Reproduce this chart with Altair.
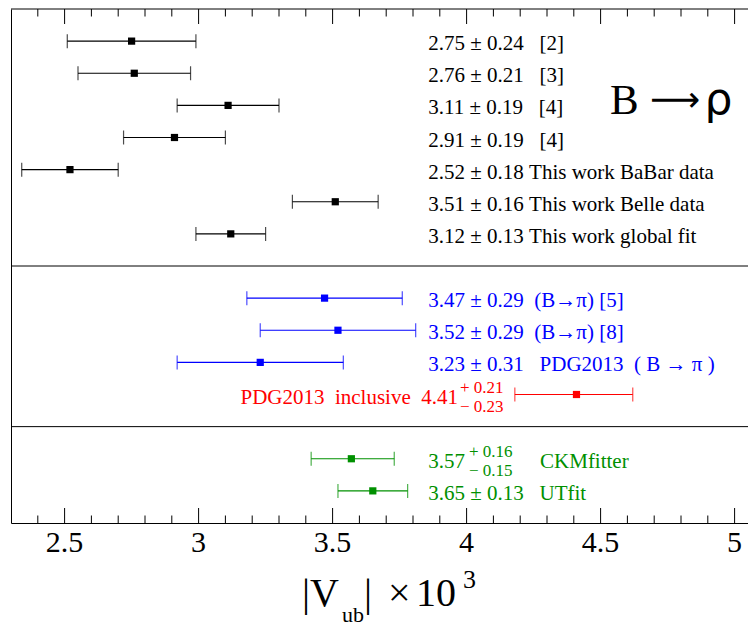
import altair as alt
import pandas as pd

# ---------------- data ----------------
rows = [1, 2, 3, 4, 5, 6, 7, 9, 10, 11, 12, 14, 15]
centers = [2.75, 2.76, 3.11, 2.91, 2.52, 3.51, 3.12, 3.47, 3.52, 3.23, 4.41, 3.57, 3.65]
err_plus = [0.24, 0.21, 0.19, 0.19, 0.18, 0.16, 0.13, 0.29, 0.29, 0.31, 0.21, 0.16, 0.13]
err_minus = [0.24, 0.21, 0.19, 0.19, 0.18, 0.16, 0.13, 0.29, 0.29, 0.31, 0.23, 0.15, 0.13]
groups = ["rho"] * 7 + ["pi"] * 3 + ["incl"] + ["fit"] * 2

NB = "\u00a0"
main_texts = [
    "2.75 ± 0.24" + NB * 3 + "[2]",
    "2.76 ± 0.21" + NB * 3 + "[3]",
    "3.11 ± 0.19" + NB * 3 + "[4]",
    "2.91 ± 0.19" + NB * 3 + "[4]",
    "2.52 ± 0.18" + NB + "This work BaBar data",
    "3.51 ± 0.16" + NB + "This work Belle data",
    "3.12 ± 0.13" + NB + "This work global fit",
    "3.47 ± 0.29" + NB * 2 + "(B→π) [5]",
    "3.52 ± 0.29" + NB * 2 + "(B→π) [8]",
    "3.23 ± 0.31" + NB * 3 + "PDG2013" + NB * 2 + "( B → π )",
    "PDG2013" + NB * 2 + "inclusive" + NB * 2 + "4.41",
    "3.57",
    "3.65 ± 0.13" + NB * 3 + "UTfit",
]
sup_texts = ["+ 0.21", "+ 0.16"]
sub_texts = ["− 0.23", "− 0.15"]
sup_rows = [12, 14]
sup_groups = ["incl", "fit"]
extra_texts = ["CKMfitter"]
extra_rows = [14]
extra_groups = ["fit"]

separators = [0, 8, 13]
major_ticks = [2.5, 3.0, 3.5, 4.0, 4.5, 5.0]
tick_labels = ["2.5", "3", "3.5", "4", "4.5", "5"]
minor_ticks = [2.4, 2.6, 2.7, 2.8, 2.9, 3.1, 3.2, 3.3, 3.4, 3.6, 3.7, 3.8, 3.9,
               4.1, 4.2, 4.3, 4.4, 4.6, 4.7, 4.8, 4.9]

# label anchor positions (x in data units)
main_x = [3.857] * 10 + [3.968] + [3.857] * 2
main_align = ["left"] * 10 + ["right"] + ["left"] * 2
sup_x = [3.975, 4.009]
extra_x = [4.274]

group_domain = ["rho", "pi", "incl", "fit"]
group_colors = ["#000000", "#0000ff", "#ff0000", "#009000"]

# ---------------- tables ----------------
pts = pd.DataFrame({
    "row": rows, "c": centers,
    "lo": [c - m for c, m in zip(centers, err_minus)],
    "hi": [c + p for c, p in zip(centers, err_plus)],
    "group": groups,
})
labels = pd.DataFrame({"row": rows, "x": main_x, "text": main_texts,
                       "group": groups, "align": main_align})
sups = pd.DataFrame({"row": sup_rows, "x": sup_x, "sup": sup_texts,
                     "sub": sub_texts, "group": sup_groups})
extras = pd.DataFrame({"row": extra_rows, "x": extra_x, "text": extra_texts,
                       "group": extra_groups})
seps = pd.DataFrame({"row": separators})
majors = pd.DataFrame({"t": major_ticks, "lab": tick_labels})
minors = pd.DataFrame({"t": minor_ticks})

SERIF = "Liberation Serif"
SANS = "DejaVu Sans"
H = 514
xscale = alt.Scale(domain=[2.3, 5.05], nice=False, zero=False)
yscale = alt.Scale(domain=[0, 16], reverse=True, nice=False, zero=False)
xaxis = alt.Axis(values=major_ticks, ticks=False, tickSize=0, labels=False,
                 domain=True, domainColor="black", domainWidth=1, grid=False,
                 title=None)
yaxis = alt.Axis(ticks=False, labels=False, domain=True, domainColor="black",
                 domainWidth=1, grid=False, title=None)
color = alt.Color("group:N", scale=alt.Scale(domain=group_domain, range=group_colors),
                  legend=None)


def X(f):
    return alt.X(f, type="quantitative", scale=xscale, axis=xaxis)


def Y(f):
    return alt.Y(f, type="quantitative", scale=yscale, axis=yaxis)


bars = alt.Chart(pts).mark_rule(strokeWidth=1.2).encode(
    x=X("lo"), x2="hi", y=Y("row"), color=color)
cap_lo = alt.Chart(pts).mark_tick(orient="vertical", size=14, thickness=1.2).encode(
    x=X("lo"), y=Y("row"), color=color)
cap_hi = alt.Chart(pts).mark_tick(orient="vertical", size=14, thickness=1.2).encode(
    x=X("hi"), y=Y("row"), color=color)
squares = alt.Chart(pts).mark_square(size=52, opacity=1, filled=True).encode(
    x=X("c"), y=Y("row"), color=color)

sep_rules = alt.Chart(seps).mark_rule(color="black", strokeWidth=1).encode(y=Y("row"))

tick_layers = []
for df, ln in [(majors, 15), (minors, 7.5)]:
    tick_layers.append(alt.Chart(df).mark_rule(color="black", strokeWidth=1).encode(
        x=X("t"), y=alt.value(0), y2=alt.value(ln)))
    tick_layers.append(alt.Chart(df).mark_rule(color="black", strokeWidth=1).encode(
        x=X("t"), y=alt.value(H), y2=alt.value(H - ln)))

tick_text = alt.Chart(majors).mark_text(
    align="center", baseline="alphabetic", font=SERIF, fontSize=30,
    color="black").encode(x=X("t"), y=alt.value(H + 29), text="lab:N")

txt_left = alt.Chart(labels).transform_filter("datum.align == 'left'").mark_text(
    align="left", baseline="alphabetic", dy=9, font=SERIF, fontSize=21).encode(
    x=X("x"), y=Y("row"), text="text:N", color=color)
txt_right = alt.Chart(labels).transform_filter("datum.align == 'right'").mark_text(
    align="right", baseline="alphabetic", dy=9, font=SERIF, fontSize=21).encode(
    x=X("x"), y=Y("row"), text="text:N", color=color)
txt_extra = alt.Chart(extras).mark_text(
    align="left", baseline="alphabetic", dy=9, font=SERIF, fontSize=21).encode(
    x=X("x"), y=Y("row"), text="text:N", color=color)
txt_sup = alt.Chart(sups).mark_text(
    align="left", baseline="alphabetic", dy=-2, font=SERIF, fontSize=17).encode(
    x=X("x"), y=Y("row"), text="sup:N", color=color)
txt_sub = alt.Chart(sups).mark_text(
    align="left", baseline="alphabetic", dy=17, font=SERIF, fontSize=17).encode(
    x=X("x"), y=Y("row"), text="sub:N", color=color)

# "B -> rho" label, three pieces
big_parts = [("B", 4.535, SERIF, 43, 9), ("⟶", 4.684, SANS, 35, 6),
             ("ρ", 4.888, SANS, 44, 9)]
big = pd.DataFrame({"row": [3] * 3, "x": [p[1] for p in big_parts],
                    "text": [p[0] for p in big_parts]})
big_layers = [
    alt.Chart(big.iloc[[i]]).mark_text(
        align="left", baseline="alphabetic", dy=d, font=f, fontSize=fs,
        color="black").encode(x=X("x"), y=Y("row"), text="text:N")
    for i, (_, _, f, fs, d) in enumerate(big_parts)
]

# axis title |V_ub| x 10^3 composed of pieces
title_parts = [
    ("|V", 291, 597, 40), ("ub", 331, 613, 22), ("|", 353, 597, 40),
    ("×", 377, 597, 40), ("10", 405, 597, 40), ("3", 452, 579, 26),
]
title_layers = [
    alt.Chart(pd.DataFrame({"a": [0]})).mark_text(
        align="left", baseline="alphabetic", font=SERIF, fontSize=fs,
        color="black", text=t).encode(x=alt.value(px), y=alt.value(py))
    for t, px, py, fs in title_parts
]

chart = alt.layer(
    sep_rules, *tick_layers, tick_text, bars, cap_lo, cap_hi, squares,
    txt_left, txt_right, txt_extra, txt_sup, txt_sub, *big_layers, *title_layers,
).properties(
    width=737, height=H,
    padding={"left": 3, "top": 1, "right": 0, "bottom": 103},
    autosize=alt.AutoSizeParams(type="none"),
    background="white",
).configure_view(stroke=None)

chart.save("out.html", embed_options={"renderer": "svg", "actions": False})
